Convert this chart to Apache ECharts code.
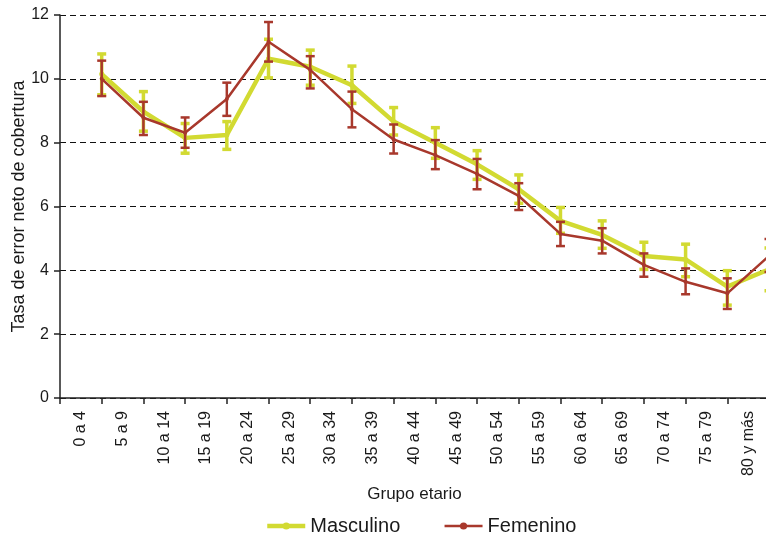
<!DOCTYPE html>
<html>
<head>
<meta charset="utf-8">
<script src="https://cdn.jsdelivr.net/npm/echarts@6/dist/echarts.min.js"></script>
<style>html,body{margin:0;padding:0;background:#fff}#c{width:766px;height:536px}</style>
</head>
<body>
<div id="c"></div>
<script>
const categories = ['0 a 4','5 a 9','10 a 14','15 a 19','20 a 24','25 a 29','30 a 34','35 a 39','40 a 44','45 a 49','50 a 54','55 a 59','60 a 64','65 a 69','70 a 74','75 a 79','80 y más'];
const yTicks = [0, 2, 4, 6, 8, 10, 12];

const masculino     = [10.15, 8.97, 8.15, 8.24, 10.63, 10.38, 9.80, 8.66, 8.00, 7.32, 6.54, 5.55, 5.11, 4.45, 4.34, 3.49, 4.03];
const masculinoLow  = [9.50, 8.36, 7.67, 7.79, 10.03, 9.80, 9.23, 8.24, 7.51, 6.85, 6.10, 5.16, 4.69, 4.03, 3.80, 2.91, 3.36];
const masculinoHigh = [10.78, 9.60, 8.60, 8.66, 11.24, 10.90, 10.40, 9.10, 8.47, 7.75, 6.99, 5.97, 5.55, 4.88, 4.82, 3.99, 4.70];

const femenino     = [10.00, 8.78, 8.31, 9.37, 11.16, 10.28, 9.05, 8.10, 7.61, 7.02, 6.33, 5.14, 4.93, 4.17, 3.64, 3.28, 4.45];
const femeninoLow  = [9.46, 8.24, 7.84, 8.84, 10.54, 9.70, 8.48, 7.66, 7.17, 6.54, 5.89, 4.76, 4.53, 3.80, 3.25, 2.79, 3.95];
const femeninoHigh = [10.57, 9.28, 8.79, 9.88, 11.78, 10.71, 9.60, 8.57, 8.08, 7.49, 6.73, 5.52, 5.32, 4.53, 4.06, 3.75, 4.98];

const YELLOW = '#d2da32';
const RED = '#a8382c';

// point axis: boundaries of the label bands
const pointCats = [''].concat(categories);
const shifted = arr => ['-'].concat(arr);
const errData = (lo, hi) => lo.map((v, i) => [i + 1, v, hi[i]]);

function errRender(color, width, half) {
  return function (params, api) {
    const x = api.value(0);
    const pHi = api.coord([x, api.value(2)]);
    const pLo = api.coord([x, api.value(1)]);
    const style = { stroke: color, lineWidth: width, fill: null };
    return {
      type: 'group',
      children: [
        { type: 'line', shape: { x1: pHi[0], y1: pHi[1], x2: pLo[0], y2: pLo[1] }, style },
        { type: 'line', shape: { x1: pHi[0] - half, y1: pHi[1], x2: pHi[0] + half, y2: pHi[1] }, style },
        { type: 'line', shape: { x1: pLo[0] - half, y1: pLo[1], x2: pLo[0] + half, y2: pLo[1] }, style }
      ]
    };
  };
}

const chart = echarts.init(document.getElementById('c'), null, { renderer: 'canvas' });
const txt = '#1a1a1a';
chart.setOption({
  animation: false,
  backgroundColor: '#fff',
  textStyle: { fontFamily: 'Liberation Sans, Arial, sans-serif' },
  grid: { left: 60, top: 15, width: 709, bottom: 138, containLabel: false, outerBoundsMode: 'none' },
  legend: {
    left: 260, top: 511,
    itemWidth: 38, itemHeight: 9, itemGap: 43,
    lineStyle: { width: 'inherit' },
    textStyle: { fontSize: 20, color: txt },
    data: ['Masculino', 'Femenino']
  },
  xAxis: [
    {
      type: 'category', data: categories, boundaryGap: true,
      axisLine: { lineStyle: { color: '#222', width: 1.5 } },
      axisTick: { show: true, length: 6, lineStyle: { color: '#222', width: 1.5 } },
      axisLabel: { rotate: 90, interval: 0, margin: 13, fontSize: 16, color: txt },
      name: 'Grupo etario', nameLocation: 'middle', nameGap: 88, nameMoveOverlap: false,
      nameTextStyle: { fontSize: 17, color: txt }
    },
    {
      type: 'category', data: pointCats, boundaryGap: false, show: false
    }
  ],
  yAxis: {
    type: 'value', min: yTicks[0], max: yTicks[yTicks.length - 1], interval: 2,
    axisLine: { show: true, lineStyle: { color: '#222', width: 1.5 } },
    axisTick: { show: true, length: 6, lineStyle: { color: '#222', width: 1.5 } },
    axisLabel: { fontSize: 16, color: txt, margin: 11 },
    splitLine: { show: true, lineStyle: { color: '#111', type: [6, 4], width: 1 } },
    name: 'Tasa de error neto de cobertura', nameLocation: 'middle', nameGap: 32, nameMoveOverlap: false,
    nameTextStyle: { fontSize: 18, color: txt }
  },
  series: [
    {
      name: 'Masculino', type: 'line', xAxisIndex: 1, data: shifted(masculino),
      color: YELLOW, lineStyle: { color: YELLOW, width: 4.5 },
      symbol: 'circle', symbolSize: 5, itemStyle: { color: YELLOW }, z: 2
    },
    {
      name: 'Masculino', type: 'custom', xAxisIndex: 1, data: errData(masculinoLow, masculinoHigh),
      encode: { x: 0, y: [1, 2] }, renderItem: errRender(YELLOW, 3.5, 4.5), z: 3
    },
    {
      name: 'Femenino', type: 'line', xAxisIndex: 1, data: shifted(femenino),
      color: RED, lineStyle: { color: RED, width: 2.5 },
      symbol: 'circle', symbolSize: 4, itemStyle: { color: RED }, z: 4
    },
    {
      name: 'Femenino', type: 'custom', xAxisIndex: 1, data: errData(femeninoLow, femeninoHigh),
      encode: { x: 0, y: [1, 2] }, renderItem: errRender(RED, 2.5, 4.5), z: 5
    }
  ]
});
</script>
</body>
</html>
